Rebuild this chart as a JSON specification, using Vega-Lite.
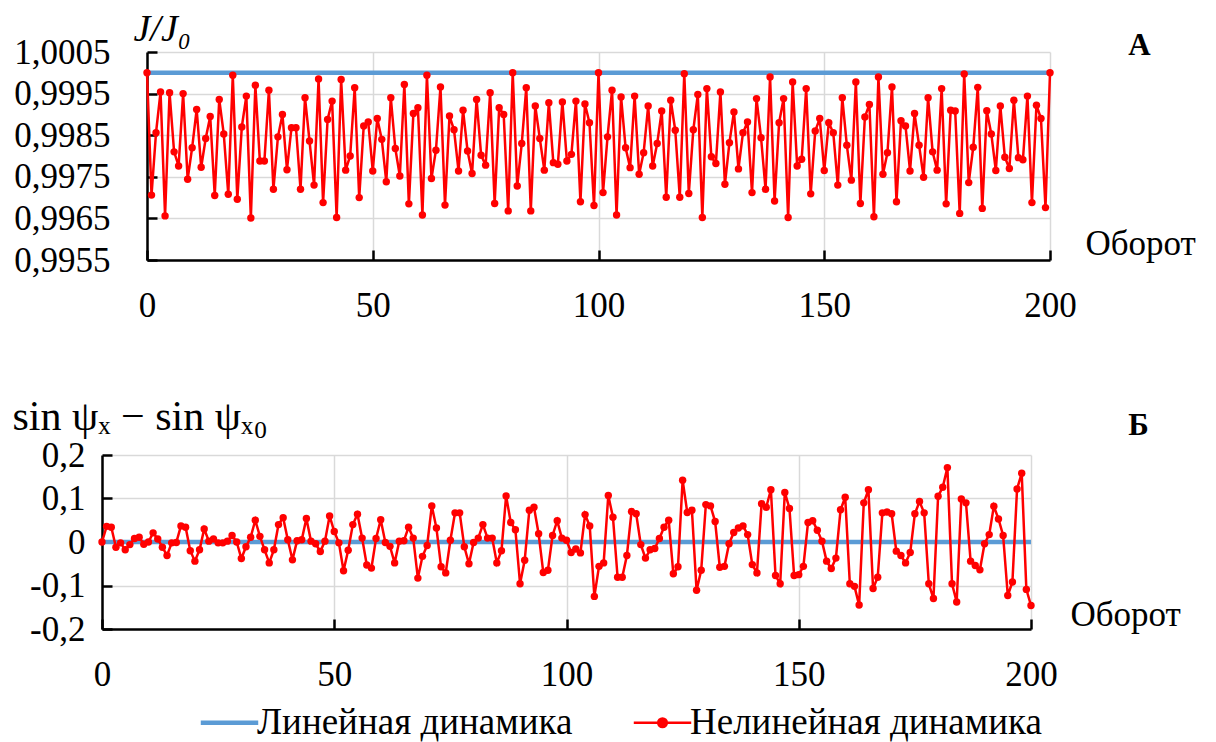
{
"$schema": "https://vega.github.io/schema/vega-lite/v6.json",
"background": "white",
"padding": {"left": 12, "top": 10, "right": 5, "bottom": 5},
"spacing": 72,
"config": {
  "font": "Liberation Serif",
  "view": {"stroke": null},
  "axis": {"labelFont": "Liberation Serif", "labelFontSize": 35, "labelColor": "black", "titleFont": "Liberation Serif", "titleFontSize": 35, "titleFontWeight": "normal", "titleColor": "black", "gridColor": "#d9d9d9", "gridWidth": 1.5, "domainColor": "black", "domainWidth": 2.5, "tickColor": "black", "tickWidth": 2.5, "tickSize": -10, "labelFlush": false, "labelOverlap": false}
},
"datasets": {
  "lin": [{"t": 0, "J": 1.0, "s": 0}, {"t": 200, "J": 1.0, "s": 0}],
  "top": [
{"t":0,"J":1.0},{"t":1,"J":0.99706},{"t":2,"J":0.99856},{"t":3,"J":0.99954},{"t":4,"J":0.99656},{"t":5,"J":0.99952},{"t":6,"J":0.9981},{"t":7,"J":0.99776},{"t":8,"J":0.9995},{"t":9,"J":0.99744},
{"t":10,"J":0.9982},{"t":11,"J":0.99912},{"t":12,"J":0.99773},{"t":13,"J":0.99842},{"t":14,"J":0.99895},{"t":15,"J":0.99705},{"t":16,"J":0.99936},{"t":17,"J":0.99853},{"t":18,"J":0.99708},{"t":19,"J":0.99994},
{"t":20,"J":0.99696},{"t":21,"J":0.9987},{"t":22,"J":0.99944},{"t":23,"J":0.99651},{"t":24,"J":0.9997},{"t":25,"J":0.99788},{"t":26,"J":0.99788},{"t":27,"J":0.99958},{"t":28,"J":0.9972},{"t":29,"J":0.99846},
{"t":30,"J":0.999},{"t":31,"J":0.99767},{"t":32,"J":0.99868},{"t":33,"J":0.99868},{"t":34,"J":0.9972},{"t":35,"J":0.9994},{"t":36,"J":0.99836},{"t":37,"J":0.9973},{"t":38,"J":0.99985},{"t":39,"J":0.99688},
{"t":40,"J":0.99888},{"t":41,"J":0.99932},{"t":42,"J":0.99652},{"t":43,"J":0.99984},{"t":44,"J":0.99766},{"t":45,"J":0.998},{"t":46,"J":0.99964},{"t":47,"J":0.997},{"t":48,"J":0.99872},{"t":49,"J":0.99882},
{"t":50,"J":0.99764},{"t":51,"J":0.9989},{"t":52,"J":0.9984},{"t":53,"J":0.99738},{"t":54,"J":0.9994},{"t":55,"J":0.99818},{"t":56,"J":0.99752},{"t":57,"J":0.99972},{"t":58,"J":0.99685},{"t":59,"J":0.99902},
{"t":60,"J":0.99916},{"t":61,"J":0.99658},{"t":62,"J":0.99994},{"t":63,"J":0.99746},{"t":64,"J":0.99814},{"t":65,"J":0.99966},{"t":66,"J":0.99682},{"t":67,"J":0.99896},{"t":68,"J":0.99863},{"t":69,"J":0.99764},
{"t":70,"J":0.9991},{"t":71,"J":0.99812},{"t":72,"J":0.99758},{"t":73,"J":0.99936},{"t":74,"J":0.99802},{"t":75,"J":0.99778},{"t":76,"J":0.99952},{"t":77,"J":0.99686},{"t":78,"J":0.99916},{"t":79,"J":0.999},
{"t":80,"J":0.99668},{"t":81,"J":1.0},{"t":82,"J":0.99728},{"t":83,"J":0.9983},{"t":84,"J":0.99964},{"t":85,"J":0.99668},{"t":86,"J":0.9992},{"t":87,"J":0.99842},{"t":88,"J":0.99766},{"t":89,"J":0.99928},
{"t":90,"J":0.99784},{"t":91,"J":0.9978},{"t":92,"J":0.9993},{"t":93,"J":0.99788},{"t":94,"J":0.99804},{"t":95,"J":0.99932},{"t":96,"J":0.9969},{"t":97,"J":0.99925},{"t":98,"J":0.9988},{"t":99,"J":0.99681},
{"t":100,"J":1.0},{"t":101,"J":0.99712},{"t":102,"J":0.99846},{"t":103,"J":0.99958},{"t":104,"J":0.99658},{"t":105,"J":0.99942},{"t":106,"J":0.9982},{"t":107,"J":0.99772},{"t":108,"J":0.99944},{"t":109,"J":0.99756},
{"t":110,"J":0.99808},{"t":111,"J":0.9992},{"t":112,"J":0.99776},{"t":113,"J":0.9983},{"t":114,"J":0.99908},{"t":115,"J":0.99701},{"t":116,"J":0.99934},{"t":117,"J":0.99862},{"t":118,"J":0.99701},{"t":119,"J":0.99998},
{"t":120,"J":0.9971},{"t":121,"J":0.99863},{"t":122,"J":0.99948},{"t":123,"J":0.99652},{"t":124,"J":0.99962},{"t":125,"J":0.99798},{"t":126,"J":0.99782},{"t":127,"J":0.99954},{"t":128,"J":0.99732},{"t":129,"J":0.99832},
{"t":130,"J":0.99906},{"t":131,"J":0.99769},{"t":132,"J":0.99856},{"t":133,"J":0.99882},{"t":134,"J":0.99712},{"t":135,"J":0.99938},{"t":136,"J":0.99844},{"t":137,"J":0.9972},{"t":138,"J":0.9999},{"t":139,"J":0.99692},
{"t":140,"J":0.9988},{"t":141,"J":0.99938},{"t":142,"J":0.99652},{"t":143,"J":0.99978},{"t":144,"J":0.99776},{"t":145,"J":0.99792},{"t":146,"J":0.99962},{"t":147,"J":0.99709},{"t":148,"J":0.9986},{"t":149,"J":0.9989},
{"t":150,"J":0.99765},{"t":151,"J":0.9988},{"t":152,"J":0.99856},{"t":153,"J":0.9973},{"t":154,"J":0.9994},{"t":155,"J":0.99826},{"t":156,"J":0.99742},{"t":157,"J":0.99978},{"t":158,"J":0.99686},{"t":159,"J":0.99894},
{"t":160,"J":0.99924},{"t":161,"J":0.99654},{"t":162,"J":0.9999},{"t":163,"J":0.99756},{"t":164,"J":0.99808},{"t":165,"J":0.99966},{"t":166,"J":0.9969},{"t":167,"J":0.99885},{"t":168,"J":0.99872},{"t":169,"J":0.99764},
{"t":170,"J":0.99902},{"t":171,"J":0.99826},{"t":172,"J":0.99749},{"t":173,"J":0.9994},{"t":174,"J":0.9981},{"t":175,"J":0.99766},{"t":176,"J":0.99962},{"t":177,"J":0.99685},{"t":178,"J":0.9991},{"t":179,"J":0.99908},
{"t":180,"J":0.99662},{"t":181,"J":0.99997},{"t":182,"J":0.99736},{"t":183,"J":0.99821},{"t":184,"J":0.99965},{"t":185,"J":0.99674},{"t":186,"J":0.99909},{"t":187,"J":0.99853},{"t":188,"J":0.99765},{"t":189,"J":0.9992},
{"t":190,"J":0.99797},{"t":191,"J":0.9977},{"t":192,"J":0.99934},{"t":193,"J":0.99796},{"t":194,"J":0.99791},{"t":195,"J":0.99944},{"t":196,"J":0.99688},{"t":197,"J":0.99922},{"t":198,"J":0.9989},{"t":199,"J":0.99676},
{"t":200,"J":1.0}],
  "bottom": [
{"t":0,"s":0},{"t":1,"s":0.036},{"t":2,"s":0.034},{"t":3,"s":-0.012},{"t":4,"s":-0.002},{"t":5,"s":-0.018},{"t":6,"s":-0.006},{"t":7,"s":0.008},{"t":8,"s":0.011},{"t":9,"s":-0.005},
{"t":10,"s":0.0},{"t":11,"s":0.021},{"t":12,"s":0.007},{"t":13,"s":-0.012},{"t":14,"s":-0.031},{"t":15,"s":-0.002},{"t":16,"s":-0.001},{"t":17,"s":0.037},{"t":18,"s":0.034},{"t":19,"s":-0.02},
{"t":20,"s":-0.044},{"t":21,"s":-0.018},{"t":22,"s":0.03},{"t":23,"s":0.002},{"t":24,"s":0.007},{"t":25,"s":-0.002},{"t":26,"s":-0.002},{"t":27,"s":0.002},{"t":28,"s":0.015},{"t":29,"s":0},
{"t":30,"s":-0.038},{"t":31,"s":-0.011},{"t":32,"s":0.011},{"t":33,"s":0.05},{"t":34,"s":0.013},{"t":35,"s":-0.018},{"t":36,"s":-0.048},{"t":37,"s":-0.018},{"t":38,"s":0.04},{"t":39,"s":0.056},
{"t":40,"s":0.005},{"t":41,"s":-0.041},{"t":42,"s":0.003},{"t":43,"s":0.005},{"t":44,"s":0.054},{"t":45,"s":0.002},{"t":46,"s":-0.004},{"t":47,"s":-0.022},{"t":48,"s":0.002},{"t":49,"s":0.06},
{"t":50,"s":0.024},{"t":51,"s":-0.002},{"t":52,"s":-0.066},{"t":53,"s":-0.019},{"t":54,"s":0.04},{"t":55,"s":0.064},{"t":56,"s":0.009},{"t":57,"s":-0.053},{"t":58,"s":-0.06},{"t":59,"s":0.008},
{"t":60,"s":0.051},{"t":61,"s":-0.001},{"t":62,"s":-0.01},{"t":63,"s":-0.048},{"t":64,"s":0.002},{"t":65,"s":0.003},{"t":66,"s":0.034},{"t":67,"s":0.009},{"t":68,"s":-0.083},{"t":69,"s":-0.033},
{"t":70,"s":-0.008},{"t":71,"s":0.083},{"t":72,"s":0.032},{"t":73,"s":-0.057},{"t":74,"s":-0.071},{"t":75,"s":0.004},{"t":76,"s":0.067},{"t":77,"s":0.067},{"t":78,"s":-0.011},{"t":79,"s":-0.05},
{"t":80,"s":-0.001},{"t":81,"s":0.009},{"t":82,"s":0.04},{"t":83,"s":0.009},{"t":84,"s":0.009},{"t":85,"s":-0.048},{"t":86,"s":-0.02},{"t":87,"s":0.106},{"t":88,"s":0.045},{"t":89,"s":0.028},
{"t":90,"s":-0.096},{"t":91,"s":-0.042},{"t":92,"s":0.073},{"t":93,"s":0.08},{"t":94,"s":0.019},{"t":95,"s":-0.07},{"t":96,"s":-0.065},{"t":97,"s":0.015},{"t":98,"s":0.049},{"t":99,"s":0.009},
{"t":100,"s":0.004},{"t":101,"s":-0.024},{"t":102,"s":-0.016},{"t":103,"s":-0.025},{"t":104,"s":0.063},{"t":105,"s":0.037},{"t":106,"s":-0.125},{"t":107,"s":-0.056},{"t":108,"s":-0.048},{"t":109,"s":0.107},
{"t":110,"s":0.057},{"t":111,"s":-0.081},{"t":112,"s":-0.081},{"t":113,"s":-0.031},{"t":114,"s":0.07},{"t":115,"s":0.065},{"t":116,"s":-0.006},{"t":117,"s":-0.037},{"t":118,"s":-0.018},{"t":119,"s":-0.015},
{"t":120,"s":0.008},{"t":121,"s":0.034},{"t":122,"s":0.05},{"t":123,"s":-0.073},{"t":124,"s":-0.057},{"t":125,"s":0.142},{"t":126,"s":0.068},{"t":127,"s":0.073},{"t":128,"s":-0.111},{"t":129,"s":-0.065},
{"t":130,"s":0.086},{"t":131,"s":0.083},{"t":132,"s":0.047},{"t":133,"s":-0.058},{"t":134,"s":-0.056},{"t":135,"s":-0.004},{"t":136,"s":0.022},{"t":137,"s":0.032},{"t":138,"s":0.037},{"t":139,"s":0.017},
{"t":140,"s":-0.052},{"t":141,"s":-0.071},{"t":142,"s":0.088},{"t":143,"s":0.08},{"t":144,"s":0.12},{"t":145,"s":-0.077},{"t":146,"s":-0.096},{"t":147,"s":0.114},{"t":148,"s":0.077},{"t":149,"s":-0.077},
{"t":150,"s":-0.075},{"t":151,"s":-0.056},{"t":152,"s":0.045},{"t":153,"s":0.049},{"t":154,"s":0.027},{"t":155,"s":0.002},{"t":156,"s":-0.044},{"t":157,"s":-0.061},{"t":158,"s":-0.037},{"t":159,"s":0.074},
{"t":160,"s":0.103},{"t":161,"s":-0.096},{"t":162,"s":-0.102},{"t":163,"s":-0.145},{"t":164,"s":0.09},{"t":165,"s":0.12},{"t":166,"s":-0.107},{"t":167,"s":-0.081},{"t":168,"s":0.067},{"t":169,"s":0.069},
{"t":170,"s":0.065},{"t":171,"s":-0.021},{"t":172,"s":-0.031},{"t":173,"s":-0.048},{"t":174,"s":-0.024},{"t":175,"s":0.065},{"t":176,"s":0.093},{"t":177,"s":0.067},{"t":178,"s":-0.096},{"t":179,"s":-0.13},
{"t":180,"s":0.105},{"t":181,"s":0.126},{"t":182,"s":0.171},{"t":183,"s":-0.096},{"t":184,"s":-0.138},{"t":185,"s":0.099},{"t":186,"s":0.09},{"t":187,"s":-0.044},{"t":188,"s":-0.054},{"t":189,"s":-0.064},
{"t":190,"s":-0.004},{"t":191,"s":0.017},{"t":192,"s":0.082},{"t":193,"s":0.053},{"t":194,"s":0.015},{"t":195,"s":-0.123},{"t":196,"s":-0.092},{"t":197,"s":0.122},{"t":198,"s":0.158},{"t":199,"s":-0.109},
{"t":200,"s":-0.146}]
},
"vconcat": [
 {"hconcat": [
  {
    "width": 1, "height": 1,
    "data": {"values": [{"k": 0}]},
    "mark": {"type": "text", "text": ""},
    "encoding": {}
  },
  {
    "width": 903, "height": 208,
    "resolve": {"axis": {"x": "independent"}},
    "layer": [
      {
        "data": {"name": "lin"},
        "mark": {"type": "line", "strokeWidth": 4.5},
        "encoding": {
          "x": {"field": "t", "type": "quantitative", "scale": {"domain": [0, 200], "nice": false},
                "axis": {"values": [0, 50, 100, 150, 200], "grid": true, "labelPadding": 38, "title": "Оборот", "titleX": 938, "titleY": -6, "titleAlign": "left", "titleBaseline": "alphabetic", "titleAnchor": null}},
          "y": {"field": "J", "type": "quantitative", "scale": {"domain": [0.9955, 1.0005], "nice": false, "zero": false},
                "axis": {"values": [0.9955, 0.9965, 0.9975, 0.9985, 0.9995, 1.0005], "grid": true, "labelPadding": 47,
                         "labelExpr": "replace(format(datum.value, '.4f'), '.', ',')",
                         "title": "J/J₀", "titleAngle": 0, "titleX": -14, "titleY": -12, "titleAlign": "left", "titleBaseline": "alphabetic", "titleFontStyle": "italic", "titleFontSize": 38}},
          "color": {"datum": "Линейная динамика", "type": "nominal",
                    "scale": {"domain": ["Линейная динамика", "Нелинейная динамика"], "range": ["#5b9bd5", "#ff0000"]},
                    "legend": {"title": null, "orient": "none", "direction": "horizontal", "legendX": 109, "legendY": 652,
                               "labelFont": "Liberation Serif", "labelFontSize": 37, "labelColor": "black", "labelOffset": 9, "labelLimit": 500,
                               "symbolType": "stroke", "symbolSize": 3300, "symbolStrokeWidth": 4.5, "columnPadding": 55,
                               "encode": {"symbols": {"update": {
                                  "shape": {"signal": "datum.value === 'Нелинейная динамика' ? 'M-1,0H1M-0.15,0A0.15,0.15 0 1,1 0.15,0A0.15,0.15 0 1,1 -0.15,0' : 'stroke'"},
                                  "strokeWidth": {"signal": "datum.value === 'Нелинейная динамика' ? 2.5 : 4.5"},
                                  "fill": {"signal": "datum.value === 'Нелинейная динамика' ? '#ff0000' : 'transparent'"}}}}}}
        }
      },
      {
        "data": {"name": "top"},
        "mark": {"type": "line", "strokeWidth": 2.5, "point": {"filled": true, "size": 55}},
        "encoding": {
          "x": {"field": "t", "type": "quantitative",
                "axis": {"orient": "top", "labels": false, "ticks": false, "domain": false, "grid": false,
                         "title": "А", "titleX": 992, "titleY": 2, "titleAlign": "center", "titleBaseline": "alphabetic", "titleFontWeight": "bold", "titleFontSize": 31, "titleAnchor": null}},
          "y": {"field": "J", "type": "quantitative"},
          "color": {"datum": "Нелинейная динамика", "type": "nominal"}
        }
      }
    ]
  }
 ], "spacing": 44, "bounds": "flush"},
 {"hconcat": [
  {
    "width": 929, "height": 174,
    "resolve": {"axis": {"x": "independent"}},
    "layer": [
      {
        "data": {"name": "lin"},
        "mark": {"type": "line", "strokeWidth": 4.5},
        "encoding": {
          "x": {"field": "t", "type": "quantitative", "scale": {"domain": [0, 200], "nice": false},
                "axis": {"values": [0, 50, 100, 150, 200], "grid": true, "labelPadding": 38, "title": "Оборот", "titleX": 968, "titleY": -4, "titleAlign": "left", "titleBaseline": "alphabetic", "titleAnchor": null}},
          "y": {"field": "s", "type": "quantitative", "scale": {"domain": [-0.2, 0.2], "nice": false},
                "axis": {"values": [-0.2, -0.1, 0, 0.1, 0.2], "grid": true, "labelPadding": 27,
                         "labelExpr": "datum.value == 0 ? '0' : replace(replace(format(datum.value, '.1f'), '.', ','), '−', '-')",
                         "title": "sin ψₓ − sin ψₓ₀", "titleAngle": 0, "titleX": -90, "titleY": -26, "titleAlign": "left", "titleBaseline": "alphabetic", "titleFontSize": 42}},
          "color": {"datum": "Линейная динамика", "type": "nominal"}
        }
      },
      {
        "data": {"name": "bottom"},
        "mark": {"type": "line", "strokeWidth": 2.5, "point": {"filled": true, "size": 55}},
        "encoding": {
          "x": {"field": "t", "type": "quantitative",
                "axis": {"orient": "top", "labels": false, "ticks": false, "domain": false, "grid": false,
                         "title": "Б", "titleX": 1036, "titleY": -21, "titleAlign": "center", "titleBaseline": "alphabetic", "titleFontWeight": "bold", "titleFontSize": 31, "titleAnchor": null}},
          "y": {"field": "s", "type": "quantitative"},
          "color": {"datum": "Нелинейная динамика", "type": "nominal"}
        }
      }
    ]
  }
 ]}
]
}
